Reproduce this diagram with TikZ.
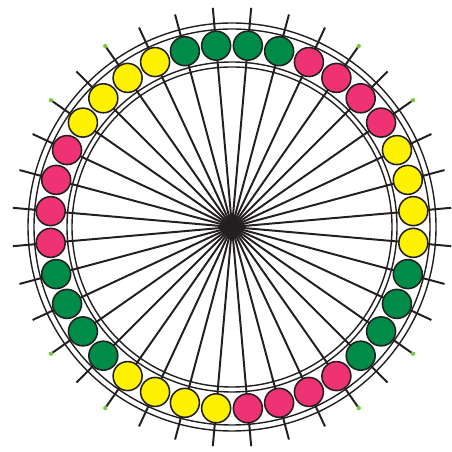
\documentclass[tikz,border=0pt]{standalone}
\usepackage{tikz}
\definecolor{beadgreen}{RGB}{0,140,72}
\definecolor{beadpink}{RGB}{238,50,115}
\definecolor{beadyellow}{RGB}{255,242,0}
\definecolor{ink}{RGB}{35,31,32}
\definecolor{tipgreen}{RGB}{122,200,65}

\begin{document}
\begin{tikzpicture}[x=0.5mm, y=0.5mm, ink, line width=2.2pt]
    \useasboundingbox (0,0) rectangle (452,452);
    \coordinate (c) at (232,225);
    % spokes
    \foreach \a in {5,15,...,355}
        \draw[line width=2.8pt] (c) -- ++(\a:220);
    % green tips on some spokes
    \foreach \a in {35,55,125,145,215,235,305,325}
        \fill[tipgreen] (c) ++(\a:221) circle (2.2);
    % rims
    \draw[line width=2pt] (c) circle (204) (c) circle (198);
    \draw[line width=2pt] (c) circle (165) (c) circle (160);
    % beads, four of each colour
    \foreach \s in {0,120,240}
        \foreach \i in {0,...,3} {
            \filldraw[fill=beadyellow] (c) ++({\s-5+10*\i}:182) circle (14.5);
            \filldraw[fill=beadpink] (c) ++({\s+35+10*\i}:182) circle (14.5);
            \filldraw[fill=beadgreen] (c) ++({\s+75+10*\i}:182) circle (14.5);
        }
\end{tikzpicture}
\end{document}
